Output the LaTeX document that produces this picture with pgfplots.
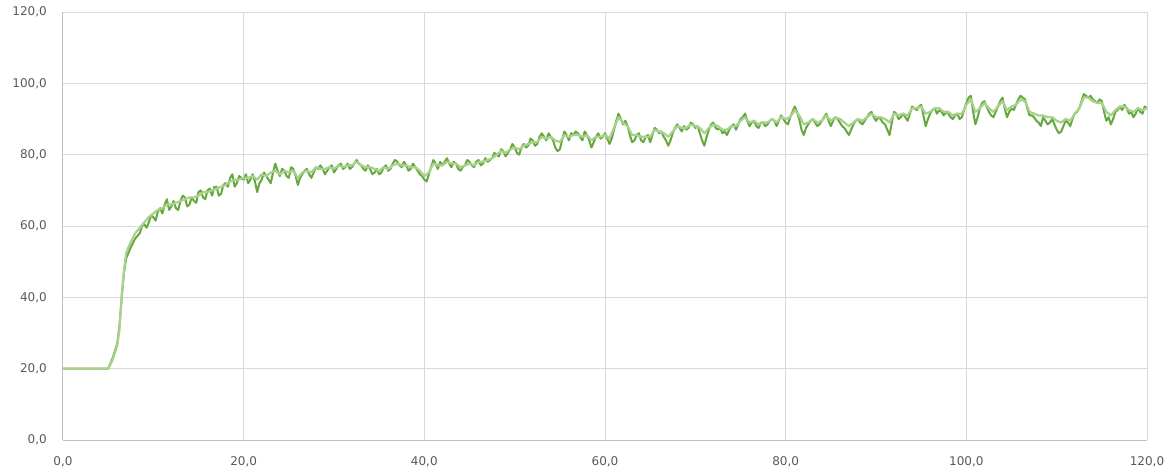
\documentclass[border=0pt]{standalone}
\usepackage{pgfplots}
\pgfplotsset{compat=1.18}
\usepackage{fontspec}
\setmainfont{DejaVu Sans}
\definecolor{darkg}{HTML}{65A83D}
\definecolor{lightg}{HTML}{A9D18E}
\definecolor{gridc}{HTML}{D9D9D9}
\definecolor{axc}{HTML}{BFBFBF}
\definecolor{txt}{HTML}{595959}
\begin{document}
\begin{tikzpicture}
\begin{axis}[
  scale only axis, width=813pt, height=321pt,
  xmin=0, xmax=120, ymin=0, ymax=120,
  xtick={0,20,...,120}, ytick={0,20,...,120},
  axis x line*=bottom, axis y line*=left,
  axis line style={color=axc, line width=0.75pt, -},
  grid=major, major grid style={color=gridc, line width=0.75pt},
  major tick length=0pt,
  tick label style={font=\fontsize{9}{10}\selectfont, color=txt, inner sep=0pt},
  xticklabel style={anchor=north, yshift=-12pt},
  yticklabel style={anchor=east, xshift=-12pt},
  /pgf/number format/.cd, fixed, fixed zerofill, precision=1, use comma, 1000 sep={}, assume math mode=true,
]
\addplot[color=darkg, line width=1.5pt, line join=round] coordinates {
(0,20) (5,20) (5.5,23) (6,27) (6.25,32) (6.5,40) (6.75,47) (7,51) (7.5,54) (8,56.5)
(8.5,58) (8.75,60) (9,60.5) (9.25,59.5) (9.5,61) (9.75,63) (10,62.5) (10.25,61.5) (10.5,64) (10.75,65) (11,63.5) (11.25,66) (11.5,67.5) (11.75,64.5) (12,65.5) (12.25,67) (12.5,65) (12.75,64.5) (13,67) (13.25,68.5) (13.5,68) (13.75,65.5) (14,66) (14.25,68) (14.5,67) (14.75,66.5) (15,69.5) (15.25,70) (15.5,68) (15.75,67.5) (16,70) (16.25,70.5) (16.5,68.5) (16.75,71) (17,71) (17.25,68.5) (17.5,69) (17.75,71.5) (18,72) (18.25,71) (18.5,73.5) (18.75,74.5) (19,71) (19.25,72) (19.5,74) (19.75,73.5) (20,73) (20.25,74.5) (20.5,72) (20.75,73) (21,74.5) (21.25,72.5) (21.5,69.5) (21.75,72) (22,73) (22.25,75) (22.5,74) (22.75,73) (23,72) (23.25,75) (23.5,77.5) (23.75,75.5) (24,74) (24.25,76) (24.5,75.5) (24.75,74) (25,73.5) (25.25,76.5) (25.5,76) (25.75,74) (26,71.5) (26.25,73.5) (26.5,74.5) (26.75,75.5) (27,76) (27.25,74.5) (27.5,73.5) (27.75,75) (28,76.5) (28.25,76) (28.5,77) (28.75,76) (29,74.5) (29.25,75.5) (29.5,76.5) (29.75,77) (30,75) (30.25,76) (30.5,77) (30.75,77.5) (31,76) (31.25,76.5) (31.5,77.5) (31.75,76) (32,76.5) (32.25,77.5) (32.5,78.5) (32.75,77.5) (33,77) (33.25,76) (33.5,75.5) (33.75,77) (34,76) (34.25,74.5) (34.5,75) (34.75,76) (35,74.5) (35.25,75) (35.5,76.5) (35.75,77) (36,75.5) (36.25,76) (36.5,77.5) (36.75,78.5) (37,78) (37.25,77) (37.5,76.5) (37.75,78) (38,77) (38.25,75.5) (38.5,76) (38.75,77.5) (39,76.5) (39.25,75.5) (39.5,74.5) (39.75,74) (40,73) (40.25,72.5) (40.5,74.5) (40.75,76.5) (41,78.5) (41.25,77.5) (41.5,76) (41.75,78) (42,77) (42.25,78) (42.5,79) (42.75,77.5) (43,76.5) (43.25,78) (43.5,77.5) (43.75,76) (44,75.5) (44.25,76.5) (44.5,77) (44.75,78.5) (45,78) (45.25,77) (45.5,76.5) (45.75,78) (46,78.5) (46.25,77) (46.5,77.5) (46.75,79) (47,78) (47.25,78.5) (47.5,79) (47.75,80.5) (48,80) (48.25,79.5) (48.5,81.5) (48.75,81) (49,79.5) (49.25,80.5) (49.5,81.5) (49.75,83) (50,82) (50.25,80.5) (50.5,80) (50.75,82) (51,83) (51.25,82) (51.5,82.5) (51.75,84.5) (52,84) (52.25,82.5) (52.5,83) (52.75,85) (53,86) (53.25,85) (53.5,84) (53.75,86) (54,85) (54.25,84) (54.5,82) (54.75,81) (55,81.5) (55.25,84) (55.5,86.5) (55.75,85.5) (56,84) (56.25,86) (56.5,85.5) (56.75,86.5) (57,86) (57.25,85) (57.5,84) (57.75,86.5) (58,85.5) (58.25,84) (58.5,82) (58.75,83.5) (59,85) (59.25,86) (59.5,84.5) (59.75,85) (60,86) (60.25,84.5) (60.5,83) (60.75,84.5) (61,87) (61.25,89.5) (61.5,91.5) (61.75,90) (62,88.5) (62.25,89.5) (62.5,88) (62.75,85.5) (63,83.5) (63.25,84) (63.5,85.5) (63.75,86) (64,84) (64.25,83.5) (64.5,85) (64.75,85.5) (65,83.5) (65.25,85.5) (65.5,87.5) (65.75,87) (66,86) (66.25,86.5) (66.5,85) (66.75,84) (67,82.5) (67.25,84) (67.5,86) (67.75,87.5) (68,88.5) (68.25,87.5) (68.5,86.5) (68.75,88) (69,87) (69.25,87.5) (69.5,89) (69.75,88.5) (70,87.5) (70.25,88) (70.5,86) (70.75,84) (71,82.5) (71.25,85) (71.5,87) (71.75,88.5) (72,89) (72.25,87.5) (72.5,87) (72.75,87.5) (73,86) (73.25,86.5) (73.5,85.5) (73.75,87) (74,88) (74.25,88.5) (74.5,87) (74.75,88.5) (75,90) (75.25,90.5) (75.5,91.5) (75.75,89.5) (76,88) (76.25,89) (76.5,89.5) (76.75,88) (77,87.5) (77.25,89) (77.5,89) (77.75,88) (78,88.5) (78.25,89.5) (78.5,90) (78.75,89.5) (79,88) (79.25,89.5) (79.5,91) (79.75,90) (80,89) (80.25,88.5) (80.5,90.5) (80.75,92) (81,93.5) (81.25,92) (81.5,90) (81.75,87) (82,85.5) (82.25,87.5) (82.5,88.5) (82.75,89.5) (83,90) (83.25,89) (83.5,88) (83.75,88.5) (84,89.5) (84.25,90.5) (84.5,91.5) (84.75,89.5) (85,88) (85.25,89.5) (85.5,90.5) (85.75,90) (86,89) (86.25,88) (86.5,87.5) (86.75,86.5) (87,85.5) (87.25,87) (87.5,88.5) (87.75,89.5) (88,90) (88.25,89) (88.5,88.5) (88.75,89.5) (89,90.5) (89.25,91.5) (89.5,92) (89.75,90.5) (90,89.5) (90.25,90.5) (90.5,90) (90.75,89) (91,88.5) (91.25,87) (91.5,85.5) (91.75,89) (92,92) (92.25,91.5) (92.5,90) (92.75,90.5) (93,91.5) (93.25,90.5) (93.5,89.5) (93.75,91.5) (94,93.5) (94.25,93) (94.5,92.5) (94.75,93.5) (95,94) (95.25,91) (95.5,88) (95.75,90) (96,91.5) (96.25,92.5) (96.5,93) (96.75,91.5) (97,92.5) (97.25,92) (97.5,91) (97.75,92) (98,91.5) (98.25,90.5) (98.5,90) (98.75,91) (99,91.5) (99.25,90) (99.5,90.5) (99.75,92.5) (100,94.5) (100.25,96) (100.5,96.5) (100.75,92) (101,88.5) (101.25,90.5) (101.5,93) (101.75,94.5) (102,95) (102.25,93.5) (102.5,92) (102.75,91) (103,90.5) (103.25,92) (103.5,93.5) (103.75,95) (104,96) (104.25,93) (104.5,90.5) (104.75,92) (105,93) (105.25,92.5) (105.5,94) (105.75,95.5) (106,96.5) (106.25,96) (106.5,95.5) (106.75,93) (107,91) (107.25,91) (107.5,90.5) (107.75,89.5) (108,89) (108.25,88) (108.5,90.5) (108.75,89.5) (109,88.5) (109.25,89) (109.5,90) (109.75,88.5) (110,87) (110.25,86) (110.5,86.5) (110.75,88) (111,89.5) (111.25,89) (111.5,88) (111.75,90) (112,91.5) (112.25,92) (112.5,93) (112.75,95) (113,97) (113.25,96.5) (113.5,96) (113.75,96.5) (114,95.5) (114.25,95) (114.5,94.5) (114.75,95.5) (115,95) (115.25,92) (115.5,89.5) (115.75,90.5) (116,88.5) (116.25,90) (116.5,92) (116.75,92.5) (117,93.5) (117.25,92.5) (117.5,94) (117.75,93) (118,91.5) (118.25,92) (118.5,90.5) (118.75,91.5) (119,93) (119.25,92) (119.5,91.5) (119.75,93.5) (120,93)
};
\addplot[color=lightg, line width=1.7pt, line join=round] coordinates {
(0,20) (5,20) (5.5,22.5) (6,26.5) (6.25,31) (6.5,40.5) (6.75,47.5) (7,52.5) (7.5,55.5) (8,58) (8.5,59.5) (9,61) (9.5,62.5) (10,63.5) (10.5,64.5) (11,65) (11.5,66) (12,66) (12.5,66.5) (13,67) (13.5,67.5) (14,68) (14.5,68) (15,68.5) (15.5,69.5) (16,69.5) (16.5,70) (17,70.5) (17.5,71) (18,71.5) (18.5,72.5) (19,73) (19.5,73) (20,73.5) (20.5,73.5) (21,74) (21.5,73) (22,74.5) (22.5,74) (23,75) (23.5,75.5) (24,74.5) (24.5,75.5) (25,75) (25.5,75.5) (26,73.5) (26.5,75) (27,75.5) (27.5,75) (28,76.5) (28.5,76) (29,76) (29.5,76.5) (30,76) (30.5,77) (31,76.5) (31.5,77) (32,77) (32.5,78) (33,77) (33.5,76.5) (34,76.5) (34.5,76) (35,75.5) (35.5,76.5) (36,76) (36.5,77) (37,77.5) (37.5,77) (38,77) (38.5,76.5) (39,76.5) (39.5,75.5) (40,74) (40.5,75) (41,77.5) (41.5,77) (42,77) (42.5,78) (43,77.5) (43.5,77.5) (44,76.5) (44.5,77) (45,77.5) (45.5,77) (46,78) (46.5,78) (47,78.5) (47.5,79) (48,80) (48.5,81) (49,80.5) (49.5,81.5) (50,82) (50.5,81.5) (51,82.5) (51.5,83) (52,83.5) (52.5,83.5) (53,85) (53.5,84.5) (54,85) (54.5,84) (55,83.5) (55.5,85.5) (56,85) (56.5,85.5) (57,85.5) (57.5,85) (58,85.5) (58.5,84) (59,85) (59.5,85) (60,85.5) (60.5,84.5) (61,87.5) (61.5,90.5) (62,89) (62.5,88) (63,85.5) (63.5,85.5) (64,85) (64.5,85) (65,85) (65.5,87) (66,86.5) (66.5,86) (67,85) (67.5,86.5) (68,88) (68.5,87.5) (69,87.5) (69.5,88.5) (70,88) (70.5,87.5) (71,86) (71.5,87.5) (72,88.5) (72.5,88) (73,87) (73.5,87) (74,88) (74.5,88) (75,89.5) (75.5,90.5) (76,89) (76.5,89.5) (77,88.5) (77.5,89) (78,89) (78.5,90) (79,89) (79.5,90.5) (80,90) (80.5,90.5) (81,92.5) (81.5,91) (82,88.5) (82.5,89) (83,90) (83.5,89) (84,89.5) (84.5,91) (85,89.5) (85.5,90.5) (86,90) (86.5,89) (87,88) (87.5,89) (88,90) (88.5,89.5) (89,90.5) (89.5,91.5) (90,90.5) (90.5,90.5) (91,90) (91.5,89) (92,91.5) (92.5,91) (93,91.5) (93.5,91) (94,93) (94.5,93) (95,93.5) (95.5,91.5) (96,92) (96.5,93) (97,93) (97.5,92) (98,92) (98.5,91) (99,91.5) (99.5,91.5) (100,94) (100.5,95.5) (101,92) (101.5,93) (102,94.5) (102.5,93) (103,92) (103.5,93.5) (104,95) (104.5,92.5) (105,93.5) (105.5,94) (106,95.5) (106.5,95) (107,92) (107.5,91.5) (108,91) (108.5,91) (109,90.5) (109.5,90.5) (110,89.5) (110.5,89) (111,90) (111.5,89.5) (112,91.5) (112.5,93) (113,96) (113.5,96) (114,95) (114.5,94.5) (115,94.5) (115.5,92) (116,91) (116.5,92.5) (117,93.5) (117.5,93.5) (118,92.5) (118.5,92) (119,93) (119.5,92.5) (120,93)
};
\end{axis}
\pgfresetboundingbox
\path[use as bounding box] (-47.25pt,-24pt) rectangle (828pt,330pt);
\end{tikzpicture}
\end{document}
